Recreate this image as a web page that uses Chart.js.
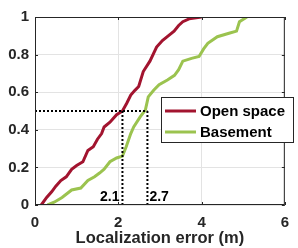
<!DOCTYPE html>
<html>
<head>
<meta charset="utf-8">
<script src="https://cdn.jsdelivr.net/npm/chart.js@4/dist/chart.umd.min.js"></script>
<style>
	html, body { margin: 0; padding: 0; background: #fff; }
	#cdf { display: block; }
</style>
</head>
<body>
<canvas id="cdf" width="298" height="248"></canvas>
<script>
// CDF of localization error
const openX = [0.15, 0.28, 0.4, 0.5, 0.62, 0.75, 0.88, 1.0, 1.15, 1.27, 1.4, 1.5, 1.6, 1.66, 1.8, 1.96, 2.1, 2.2, 2.3, 2.4, 2.49, 2.6, 2.76, 2.92, 3.06, 3.2, 3.34, 3.45, 3.55, 3.7, 4.0];
const openY = [0, 0.04, 0.07, 0.1, 0.13, 0.15, 0.19, 0.21, 0.23, 0.29, 0.31, 0.35, 0.38, 0.415, 0.44, 0.48, 0.5, 0.54, 0.585, 0.61, 0.63, 0.71, 0.765, 0.84, 0.875, 0.9, 0.925, 0.955, 0.975, 0.99, 1.0];
const baseX = [0.3, 0.46, 0.65, 0.88, 1.1, 1.27, 1.43, 1.55, 1.66, 1.8, 1.96, 2.1, 2.19, 2.3, 2.37, 2.53, 2.65, 2.72, 2.85, 2.98, 3.18, 3.35, 3.45, 3.55, 3.76, 3.94, 4.05, 4.15, 4.38, 4.68, 4.84, 4.91, 5.09];
const baseY = [0, 0.015, 0.04, 0.08, 0.09, 0.13, 0.15, 0.17, 0.19, 0.23, 0.25, 0.26, 0.31, 0.38, 0.415, 0.47, 0.505, 0.575, 0.61, 0.64, 0.665, 0.69, 0.72, 0.765, 0.78, 0.79, 0.83, 0.86, 0.895, 0.915, 0.925, 0.975, 1.0];
const seriesNames = ["Open space", "Basement"];
const seriesColors = ["#A2142F", "#9BC34F"];
// median markers
const markX = [2.1, 2.7];
const markLevel = 0.5;
const xTicks = [0, 2, 4, 6];
const yTicks = [0, 0.2, 0.4, 0.6, 0.8, 1];

const toPts = (xs, ys) => xs.map((x, i) => ({ x: x, y: ys[i] }));
const dotted = (pts) => ({
	data: pts,
	showLine: true,
	borderColor: "#000",
	borderWidth: 2,
	borderDash: [2, 2],
	pointRadius: 0,
	fill: false,
});

const axisColor = "#262626";
const tickFont = { family: "'Liberation Sans', Arial, sans-serif", size: 15, weight: "bold" };

// box around axes, inward ticks, legend and value labels
const matlabBox = {
	id: "matlabBox",
	afterDatasetsDraw(chart) {
		const { ctx, chartArea: a, scales } = chart;
		ctx.save();
		ctx.strokeStyle = axisColor;
		ctx.lineWidth = 1;
		ctx.strokeRect(a.left + 0.5, a.top + 0.5, a.right - a.left - 1, a.bottom - a.top - 1);
		ctx.beginPath();
		xTicks.forEach((v) => {
			const px = Math.round(scales.x.getPixelForValue(v)) + 0.5;
			ctx.moveTo(px, a.bottom); ctx.lineTo(px, a.bottom - 3);
			ctx.moveTo(px, a.top); ctx.lineTo(px, a.top + 3);
		});
		yTicks.forEach((v) => {
			const py = Math.round(scales.y.getPixelForValue(v)) + 0.5;
			ctx.moveTo(a.left, py); ctx.lineTo(a.left + 3, py);
			ctx.moveTo(a.right, py); ctx.lineTo(a.right - 3, py);
		});
		ctx.stroke();

		// value labels next to the dotted lines
		ctx.fillStyle = "#000";
		ctx.font = "bold 14px 'Liberation Sans', Arial, sans-serif";
		ctx.textBaseline = "middle";
		const ly = scales.y.getPixelForValue(0.04);
		ctx.textAlign = "right";
		ctx.fillText(markX[0].toString(), scales.x.getPixelForValue(markX[0]) - 3, ly);
		ctx.textAlign = "left";
		ctx.fillText(markX[1].toString(), scales.x.getPixelForValue(markX[1]) + 2, ly);

		// legend
		const lx = 161, lyTop = 97, lw = 132, lh = 45;
		ctx.fillStyle = "#fff";
		ctx.fillRect(lx, lyTop, lw, lh);
		ctx.strokeStyle = axisColor;
		ctx.lineWidth = 1;
		ctx.strokeRect(lx + 0.5, lyTop + 0.5, lw, lh);
		ctx.font = "bold 15px 'Liberation Sans', Arial, sans-serif";
		ctx.textAlign = "left";
		seriesNames.forEach((name, i) => {
			const y = lyTop + 14 + i * 21;
			ctx.strokeStyle = seriesColors[i];
			ctx.lineWidth = 3;
			ctx.beginPath();
			ctx.moveTo(lx + 4, y); ctx.lineTo(lx + 35, y);
			ctx.stroke();
			ctx.fillStyle = "#000";
			ctx.fillText(name, lx + 39, y + 1);
		});
		ctx.restore();
	},
};

const cdfCanvas = document.getElementById("cdf").getContext("2d");

new Chart(cdfCanvas, {
	type: "scatter",
	data: {
		datasets: [
			dotted([{ x: 0, y: markLevel }, { x: markX[1], y: markLevel }]),
			dotted([{ x: markX[0], y: 0 }, { x: markX[0], y: markLevel }]),
			dotted([{ x: markX[1], y: 0 }, { x: markX[1], y: markLevel }]),
			{
				label: seriesNames[0],
				data: toPts(openX, openY),
				showLine: true,
				borderColor: seriesColors[0],
				borderWidth: 3,
				pointRadius: 0,
			},
			{
				label: seriesNames[1],
				data: toPts(baseX, baseY),
				showLine: true,
				borderColor: seriesColors[1],
				borderWidth: 3,
				pointRadius: 0,
			},
		],
	},
	options: {
		responsive: false,
		animation: false,
		layout: { padding: { top: 17, right: 4, left: 0, bottom: 0 } },
		plugins: { legend: { display: false }, tooltip: { enabled: false } },
		scales: {
			x: {
				type: "linear",
				min: 0,
				max: 6,
				afterFit: (s) => { s.height = 43; },
				afterBuildTicks: (s) => { s.ticks = xTicks.map((v) => ({ value: v })); },
				grid: { color: "#e3e3e3", drawTicks: false },
				border: { display: false },
				ticks: {
					color: axisColor,
					padding: 9,
					font: tickFont,
					callback: (v) => String(+Number(v).toFixed(1)),
				},
				title: {
					display: true,
					text: "Localization error (m)",
					color: axisColor,
					padding: { top: 0, bottom: 0 },
					font: { family: "'Liberation Sans', Arial, sans-serif", size: 16.5, weight: "bold" },
				},
			},
			y: {
				min: 0,
				max: 1,
				afterFit: (s) => { s.width = 35; },
				afterBuildTicks: (s) => { s.ticks = yTicks.map((v) => ({ value: v })); },
				grid: { color: "#e3e3e3", drawTicks: false },
				border: { display: false },
				ticks: {
					color: axisColor,
					padding: 6,
					font: tickFont,
					callback: (v) => String(+Number(v).toFixed(1)),
				},
			},
		},
	},
	plugins: [matlabBox],
});
</script>
</body>
</html>
